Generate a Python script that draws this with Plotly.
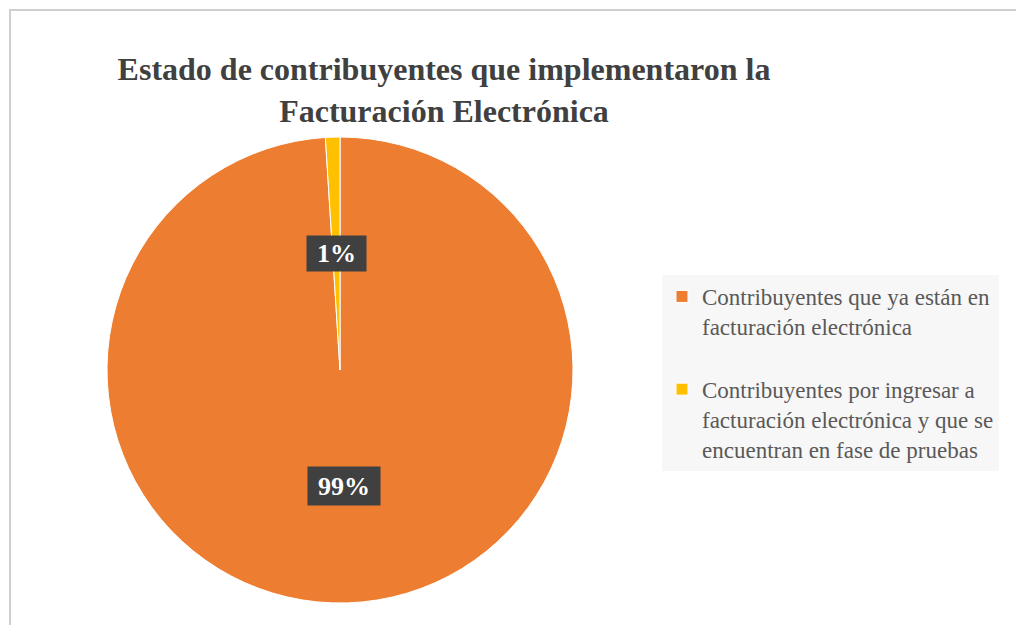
import math
import plotly.graph_objects as go

# ---- data ----
labels = [
    "Contribuyentes que ya están en<br>facturación electrónica<br> ",
    "Contribuyentes por ingresar a<br>facturación electrónica y que se<br>encuentran en fase de pruebas",
]
values = [99, 1]
colors = ["#ED7D31", "#FFC000"]
title_text = "<b>Estado de contribuyentes que implementaron la<br>Facturación Electrónica</b>"

W, H = 1016, 625
# pie geometry (pixels)
cx, cy, R = 340, 370, 233
dom_x = [(cx - R) / W, (cx + R) / W]
dom_y = [1 - (cy + R) / H, 1 - (cy - R) / H]

fig = go.Figure()
fig.add_trace(go.Pie(
    labels=labels, values=values, sort=False, direction="clockwise", rotation=0,
    marker=dict(colors=colors, line=dict(color="white", width=1)),
    textinfo="none", hoverinfo="label+percent",
    domain=dict(x=dom_x, y=dom_y),
))

# data labels in dark boxes, placed at half radius along each slice's mid-angle
total = sum(values)
cum = 0
for v in values:
    mid = (cum + v / 2) / total * 2 * math.pi
    cum += v
    px = cx + 0.5 * R * math.sin(mid)
    py = cy - 0.5 * R * math.cos(mid)
    pct = f"{round(v / total * 100)}%"
    two = len(pct) == 2
    fig.add_annotation(
        x=px / W, y=1 - py / H, xref="paper", yref="paper",
        xanchor="center", yanchor="middle",
        text=f"<b>{pct}</b>", showarrow=False,
        font=dict(family="Liberation Serif", size=26, color="white"),
        bgcolor="#404040", borderpad=2,
        width=55 if two else 68, height=31 if two else 34,
    )

# outer chart border
fig.add_shape(type="rect", xref="paper", yref="paper",
              x0=10 / W, y0=-0.2, x1=1.2, y1=1 - 10 / H,
              line=dict(color="#cfcfcf", width=2), fillcolor="rgba(0,0,0,0)")

fig.update_layout(
    width=W, height=H,
    margin=dict(l=0, r=0, t=0, b=0),
    paper_bgcolor="white", plot_bgcolor="white",
    title=dict(text=title_text, x=444 / W, xanchor="center",
               y=1 - 80 / H, yanchor="top",
               font=dict(family="Liberation Serif", size=32, color="#404040")),
    legend=dict(x=662 / W, y=1 - 275 / H, xanchor="left", yanchor="top",
                bgcolor="#f7f7f7", valign="top",
                font=dict(family="Liberation Serif", size=23, color="#595959")),
    showlegend=True,
)

fig.write_html(
    "out.html",
    config={"displayModeBar": False},
    post_script="document.body.style.margin='0';document.body.style.overflow='hidden';",
)
